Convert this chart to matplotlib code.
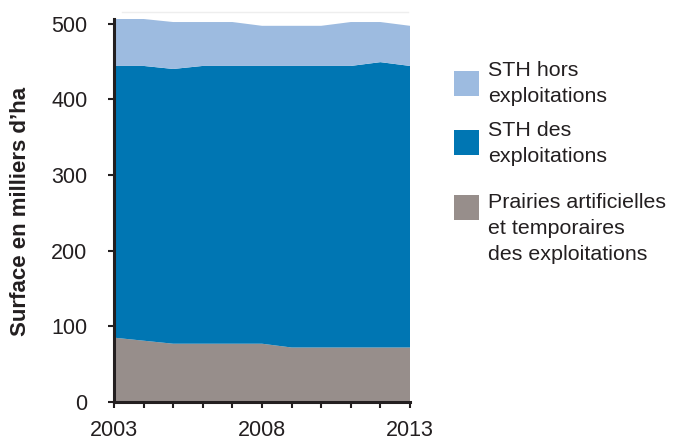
import matplotlib
matplotlib.use("Agg")
import matplotlib.pyplot as plt
from matplotlib.patches import Rectangle

plt.rcParams['font.family'] = ['Liberation Sans', 'DejaVu Sans']

years = [2003, 2004, 2005, 2006, 2007, 2008, 2009, 2010, 2011, 2012, 2013]
prairies = [85, 81, 77, 77, 77, 77, 72, 72, 72, 72, 72]
sth_exploit = [359, 363, 363, 367, 367, 367, 372, 372, 372, 377, 372]
sth_hors = [62, 62, 62, 58, 58, 53, 53, 53, 58, 53, 53]

series = [prairies, sth_exploit, sth_hors]
colors = ['#978E8B', '#0076B3', '#9DBBE0']
labels = ['STH hors\nexploitations', 'STH des\nexploitations',
          'Prairies artificielles\net temporaires\ndes exploitations']
yticks = [0, 100, 200, 300, 400, 500]
xticklabels = ['2003', '2008', '2013']

fig = plt.figure(figsize=(6.73, 4.4), dpi=100)
ax = fig.add_axes([114/673, 38/440, (410-114)/673, (402-19)/440])
ax.stackplot(years, *series, colors=colors, linewidth=0)
ax.set_xlim(2003, 2013)
ax.set_ylim(0, 506)

for s in ['top', 'right']:
    ax.spines[s].set_visible(False)
for s in ['left', 'bottom']:
    ax.spines[s].set_linewidth(2.2)
    ax.spines[s].set_color('#231F20')

ax.set_yticks(yticks)
ax.set_yticklabels([str(v) for v in yticks])
ax.set_xticks(years)
ax.set_xticklabels([y if y in xticklabels else '' for y in map(str, years)])
ax.tick_params(axis='both', direction='out', length=4, width=1.5,
               color='#231F20', labelsize=15.5, labelcolor='#231F20')
ax.tick_params(axis='x', pad=9)
ax.tick_params(axis='y', pad=15)
fig.text(20.5/673, 1-211/440, "Surface en milliers d’ha", fontsize=16,
         fontweight='bold', color='#231F20', rotation=90,
         ha='center', va='center')

# thin light line at the top
fig.add_artist(plt.Line2D([122/673, 408/673], [1-12/440, 1-12/440],
                          color='#EEEEEE', lw=1))

# custom legend (colors in order of legend)
leg_items = [(labels[0], colors[2], 71, 61), (labels[1], colors[1], 130, 121),
             (labels[2], colors[0], 195, 193)]
for text, c, ytop, ttop in leg_items:
    fig.add_artist(Rectangle((454/673, 1-(ytop+25)/440), 25/673, 25/440,
                             transform=fig.transFigure, color=c, lw=0))
    fig.text(488/673, 1-ttop/440, text, fontsize=15.4, color='#231F20',
             va='top', ha='left', linespacing=1.48)

fig.savefig('out.png', dpi=100)
